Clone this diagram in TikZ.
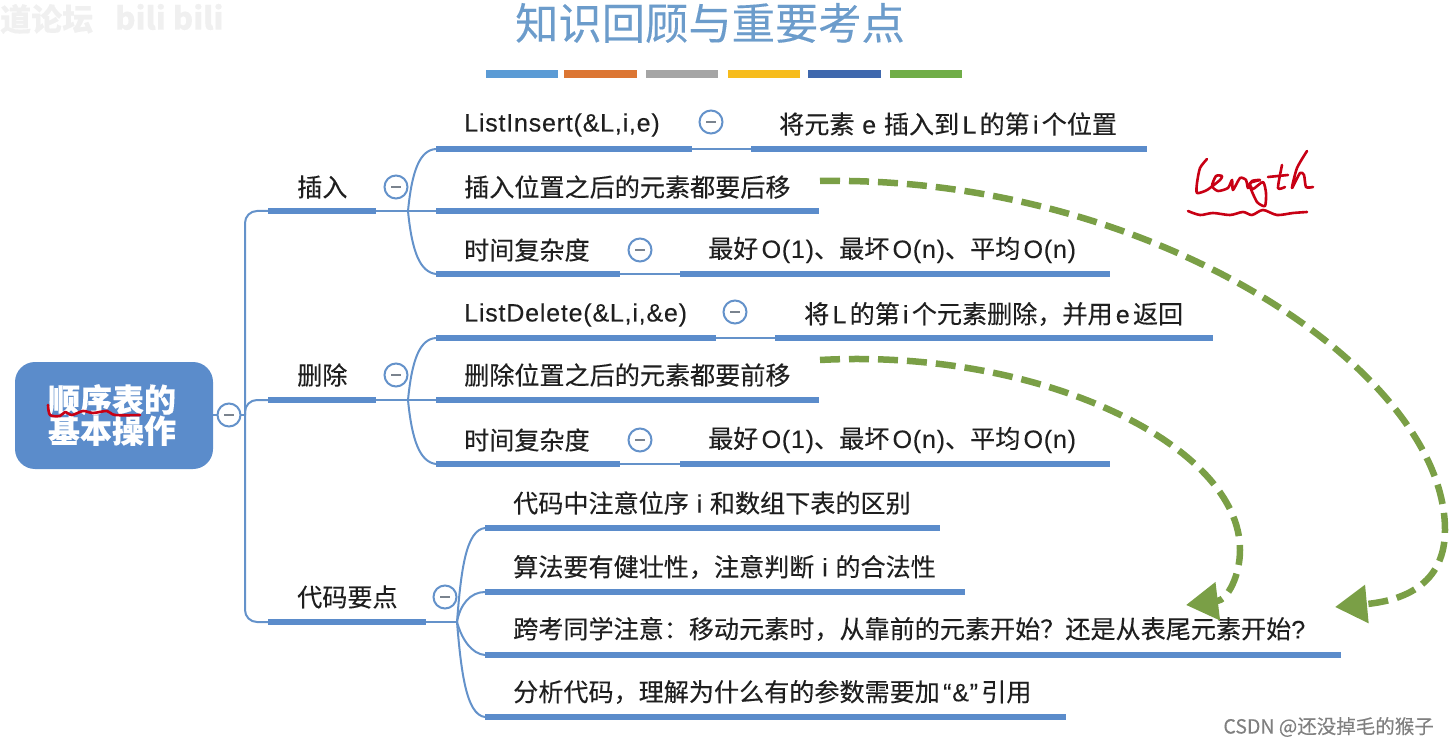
\documentclass[tikz,border=0pt]{standalone}
\usepackage{fontspec}
\setmainfont{Noto Sans CJK SC}[FakeBold=0.2]
\newfontfamily\latn{Liberation Sans}[LetterSpace=3,FakeBold=0.1]
\newcommand{\lat}[1]{{\latn #1}}
\newcommand{\tig}{\hspace{3.2pt}}
\usetikzlibrary{arrows.meta}
\definecolor{mapblue}{HTML}{5B8CCB}
\definecolor{linkblue}{HTML}{6492CA}
\definecolor{dashgreen}{HTML}{7A9F46}
\definecolor{inkred}{HTML}{C80014}
\definecolor{titleblue}{HTML}{6C9CCB}
\definecolor{stripea}{HTML}{5B9BD5}
\definecolor{stripeb}{HTML}{DC7633}
\definecolor{stripec}{HTML}{A5A5A5}
\definecolor{striped}{HTML}{F7BC1C}
\definecolor{stripee}{HTML}{3F68AD}
\definecolor{stripef}{HTML}{70AD47}
\tikzset{
  rootbox/.style={fill=mapblue, rounded corners=20pt, minimum width=198pt, minimum height=107pt, inner sep=0pt},
  roottext/.style={inner sep=0pt, text=white, align=center, font=\fontsize{32}{34}\selectfont\bfseries},
  barbox/.style={fill=mapblue, minimum height=6.5pt, inner sep=0pt, anchor=west},
  stripe/.style={minimum height=8pt, inner sep=0pt, anchor=west},
  link/.style={draw=linkblue, line width=2pt},
  label/.style={anchor=west, inner sep=0pt, text=black!88, font=\fontsize{25.1}{27}\selectfont},
  fold/.style={circle, draw=linkblue, fill=white, line width=2pt, minimum size=23pt, inner sep=0pt,
    path picture={\draw[gray!80!linkblue, line width=1.5pt] ([xshift=-5pt]path picture bounding box.center) -- ([xshift=5pt]path picture bounding box.center);}},
  jump/.style={draw=dashgreen, line width=6.5pt, dash pattern=on 20pt off 9pt, -{Triangle[length=32pt,width=37pt,fill=dashgreen]}},
  ink/.style={draw=inkred, line width=2.6pt, line cap=round, line join=round},
}
\begin{document}
\begin{tikzpicture}[x=1pt, y=-1pt]
  \useasboundingbox (0,0) rectangle (1449,746);
  \node[text=black!6, anchor=west, inner sep=0pt, font=\fontsize{31}{33}\selectfont\bfseries] (markone) at (0,19) {道论坛};
  \node[text=black!6, anchor=west, inner sep=0pt, font=\fontsize{31}{33}\selectfont\bfseries] (marktwo) at (115,17) {bili bili};

  \node[text=titleblue, font=\fontsize{43.3}{45}\selectfont] (title) at (710,23) {知识回顾与重要考点};
  \node[stripe, fill=stripea, minimum width=72pt] (s1) at (486,74) {};
  \node[stripe, fill=stripeb, minimum width=73pt] (s2) at (564,74) {};
  \node[stripe, fill=stripec, minimum width=72pt] (s3) at (646,74) {};
  \node[stripe, fill=striped, minimum width=72pt] (s4) at (728,74) {};
  \node[stripe, fill=stripee, minimum width=73pt] (s5) at (808,74) {};
  \node[stripe, fill=stripef, minimum width=72pt] (s6) at (890,74) {};

  \node[rootbox] (root) at (114,415.5) {};
  \node[roottext] (rootname) at (112,415) {顺序表的\\[-3pt]基本操作};
  \coordinate (trunk) at (245,415);

  \node[barbox, minimum width=108pt] (insbar) at (268,211) {};
  \node[barbox, minimum width=108pt] (delbar) at (268,400) {};
  \node[barbox, minimum width=158pt] (codebar) at (268,622) {};
  \node[label] (instext) at (297,187) {插入};
  \node[label] (deltext) at (297,375) {删除};
  \node[label] (codetext) at (297,597) {代码要点};
  \coordinate (insfork) at (408,211);
  \coordinate (delfork) at (408,400);
  \coordinate (codefork) at (457,622);

  \node[barbox, minimum width=256pt] (i1bar) at (436,149) {};
  \node[barbox, minimum width=396pt] (i1end) at (751,149) {};
  \node[barbox, minimum width=383pt] (i2bar) at (436,211) {};
  \node[barbox, minimum width=184pt] (i3bar) at (436,274) {};
  \node[barbox, minimum width=430pt] (i3end) at (680,274) {};
  \node[label] (i1text) at (464,125) {\lat{ListInsert(\&L,i,e)}};
  \node[label] (i1note) at (779,124) {将元素\lat{ e }插入到\tig\lat{L}\tig 的第\tig\lat{i}\tig 个位置};
  \node[label] (i2text) at (464,187) {插入位置之后的元素都要后移};
  \node[label] (i3text) at (464,250) {时间复杂度};
  \node[label] (i3note) at (708,250) {最好\tig\lat{O(1)}、最坏\tig\lat{O(n)}、平均\tig\lat{O(n)}};

  \node[barbox, minimum width=280pt] (d1bar) at (436,338) {};
  \node[barbox, minimum width=438pt] (d1end) at (775,338) {};
  \node[barbox, minimum width=383pt] (d2bar) at (436,400) {};
  \node[barbox, minimum width=184pt] (d3bar) at (436,464) {};
  \node[barbox, minimum width=430pt] (d3end) at (680,464) {};
  \node[label] (d1text) at (464,315) {\lat{ListDelete(\&L,i,\&e)}};
  \node[label] (d1note) at (804,314) {将\tig\lat{L}\tig 的第\tig\lat{i}\tig 个元素删除，并用\tig\lat{e}\tig 返回};
  \node[label] (d2text) at (464,375) {删除位置之后的元素都要前移};
  \node[label] (d3text) at (464,440) {时间复杂度};
  \node[label] (d3note) at (708,440) {最好\tig\lat{O(1)}、最坏\tig\lat{O(n)}、平均\tig\lat{O(n)}};

  \node[barbox, minimum width=455pt] (c1bar) at (485,528) {};
  \node[barbox, minimum width=480pt] (c2bar) at (485,592) {};
  \node[barbox, minimum width=856pt] (c3bar) at (485,655) {};
  \node[barbox, minimum width=581pt] (c4bar) at (485,717) {};
  \node[label] (c1text) at (513,503) {代码中注意位序\lat{ i }和数组下表的区别};
  \node[label] (c2text) at (513,567) {算法要有健壮性，注意判断\lat{ i }的合法性};
  \node[label] (c3text) at (513,629) {跨考同学注意：移动元素时，从靠前的元素开始？还是从表尾元素开始\lat{?}};
  \node[label] (c4text) at (513,692) {分析代码，理解为什么有的参数需要加\tig\lat{“\&”}\tig 引用};

  \draw[link] (root.east |- trunk) -- (trunk);
  \draw[link, rounded corners=12pt] (trunk) |- (insbar.west);
  \draw[link, rounded corners=12pt] (trunk) |- (delbar.west);
  \draw[link, rounded corners=12pt] (trunk) |- (codebar.west);
  \draw[link] (insbar.east) -- (i2bar.west);
  \draw[link] (insfork) .. controls (412,170) and (420,150) .. (i1bar.west);
  \draw[link] (insfork) .. controls (412,252) and (420,272) .. (i3bar.west);
  \draw[link] (delbar.east) -- (d2bar.west);
  \draw[link] (delfork) .. controls (412,359) and (420,339) .. (d1bar.west);
  \draw[link] (delfork) .. controls (412,441) and (420,462) .. (d3bar.west);
  \draw[link] (codebar.east) -- (codefork);
  \draw[link] (codefork) .. controls (461,570) and (466,530) .. (c1bar.west);
  \draw[link] (codefork) .. controls (460,605) and (470,592) .. (c2bar.west);
  \draw[link] (codefork) .. controls (462,640) and (472,654) .. (c3bar.west);
  \draw[link] (codefork) .. controls (461,670) and (466,715) .. (c4bar.west);
  \draw[link] (i1bar.east) -- (i1end.west);
  \draw[link] (i3bar.east) -- (i3end.west);
  \draw[link] (d1bar.east) -- (d1end.west);
  \draw[link] (d3bar.east) -- (d3end.west);

  \node[fold] (rootfold) at (229,415) {};
  \node[fold] (insfold) at (396,187) {};
  \node[fold] (delfold) at (396,375) {};
  \node[fold] (codefold) at (445,597) {};
  \node[fold] (i1fold) at (711,122) {};
  \node[fold] (i3fold) at (640,250) {};
  \node[fold] (d1fold) at (735,312) {};
  \node[fold] (d3fold) at (640,440) {};

  \coordinate (jumponefrom) at (820,181);
  \coordinate (jumpone) at (1335,607);
  \coordinate (jumptwofrom) at (820,360);
  \coordinate (jumptwo) at (1186,605);
  \draw[jump] (jumponefrom) .. controls (1150,175) and (1445,370) .. (1445,530) .. controls (1445,580) and (1410,600) .. (jumpone);
  \draw[jump] (jumptwofrom) .. controls (1040,348) and (1240,445) .. (1240,550) .. controls (1240,575) and (1228,600) .. (jumptwo);

  \draw[ink] plot[smooth] coordinates {(48,405) (50,415) (60,416) (65,412) (72,415) (83,411) (93,413) (107,411) (115,415) (140,415)};
  \draw[ink] plot[smooth, tension=.4] coordinates {(1207,159) (1200,168) (1197,183) (1197,193) (1207,190) (1220,180) (1222,176) (1216,176) (1212,186) (1218,191) (1228,188) (1232,180) (1233,190) (1240,178) (1246,180) (1248,188) (1252,181) (1260,180) (1250,183) (1253,189) (1263,182) (1266,193) (1265,206) (1257,202) (1250,187)};
  \draw[ink] plot[smooth, tension=.4] coordinates {(1282,165) (1278,188) (1285,187)};
  \draw[ink] (1268,177) -- (1288,175);
  \draw[ink] plot[smooth, tension=.4] coordinates {(1307,151) (1297,168) (1292,188) (1300,173) (1304,175) (1306,187) (1313,187)};
  \draw[ink] plot[smooth] coordinates {(1188,211) (1200,215) (1213,213) (1230,215) (1243,212) (1252,215) (1263,210) (1277,215) (1293,213) (1307,212)};

  \node[text=black!50, anchor=east, inner sep=0pt, font=\fontsize{19.5}{21}\selectfont] (csdn) at (1434,727) {CSDN @还没掉毛的猴子};
\end{tikzpicture}
\end{document}
